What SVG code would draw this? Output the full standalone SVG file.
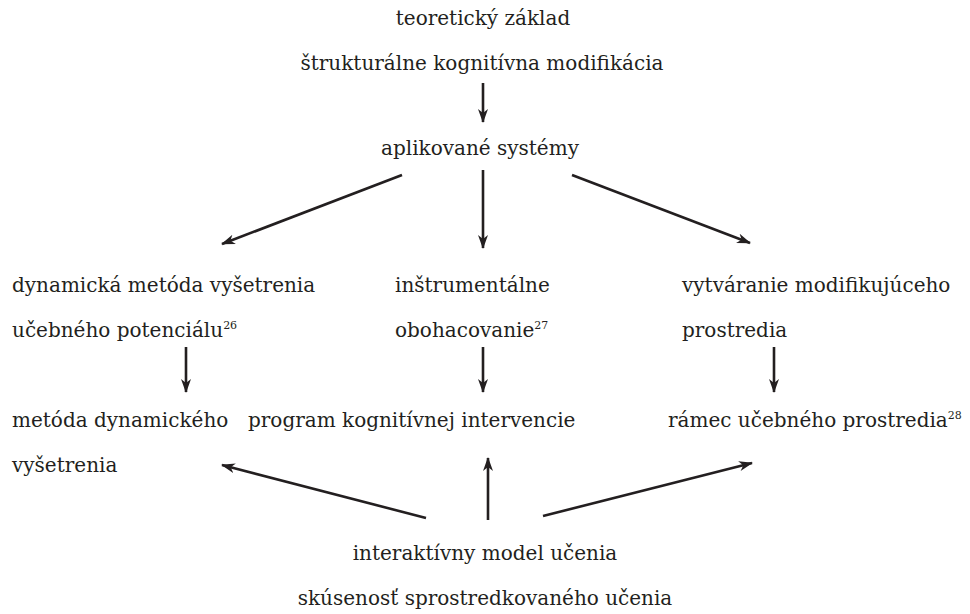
<svg xmlns="http://www.w3.org/2000/svg" width="970" height="614" viewBox="0 0 970 614">
<style>
text{font-family:"DejaVu Serif","Liberation Serif",serif;font-size:20px;fill:#231f20}
.c{text-anchor:middle}
.sup{font-size:11px}
.e{stroke:#231f20;stroke-width:2.6;fill:none;marker-end:url(#ah)}
</style>
<defs>
<marker id="ah" markerWidth="16" markerHeight="12" refX="13" refY="5" orient="auto" markerUnits="userSpaceOnUse">
<path d="M0,0 L14,5 L0,10 L4,5 z" fill="#231f20"/>
</marker>
</defs>
<rect width="970" height="614" fill="#fff"/>
<g id="top"><text class="c" x="483" y="25">teoretický základ</text><text class="c" x="482" y="70">štrukturálne kognitívna modifikácia</text></g>
<g id="apl"><text class="c" x="480" y="155">aplikované systémy</text></g>
<g id="dyn"><text x="12" y="292">dynamická metóda vyšetrenia</text><text x="12" y="337">učebného potenciálu<tspan class="sup" dy="-8">26</tspan></text></g>
<g id="ins"><text x="395" y="292">inštrumentálne</text><text x="395" y="337">obohacovanie<tspan class="sup" dy="-8">27</tspan></text></g>
<g id="vyt"><text x="682" y="292">vytváranie modifikujúceho</text><text x="682" y="337">prostredia</text></g>
<g id="met"><text x="12" y="427">metóda dynamického</text><text x="12" y="472">vyšetrenia</text></g>
<g id="prog"><text x="248" y="427">program kognitívnej intervencie</text></g>
<g id="ramec"><text x="668" y="427">rámec učebného prostredia<tspan class="sup" dy="-8">28</tspan></text></g>
<g id="inter"><text class="c" x="485" y="560">interaktívny model učenia</text><text class="c" x="485" y="605">skúsenosť sprostredkovaného učenia</text></g>
<g id="connectors">
<line class="e" x1="483" y1="83" x2="483" y2="122"/>
<line class="e" x1="402" y1="175" x2="222" y2="244"/>
<line class="e" x1="483" y1="170" x2="483" y2="248"/>
<line class="e" x1="572" y1="175" x2="750" y2="243"/>
<line class="e" x1="186" y1="347" x2="186" y2="392"/>
<line class="e" x1="483" y1="347" x2="483" y2="392"/>
<line class="e" x1="774" y1="347" x2="774" y2="392"/>
<line class="e" x1="426" y1="518" x2="222" y2="465"/>
<line class="e" x1="488" y1="520" x2="488" y2="458"/>
<line class="e" x1="543" y1="516" x2="752" y2="463"/>
</g>
</svg>
